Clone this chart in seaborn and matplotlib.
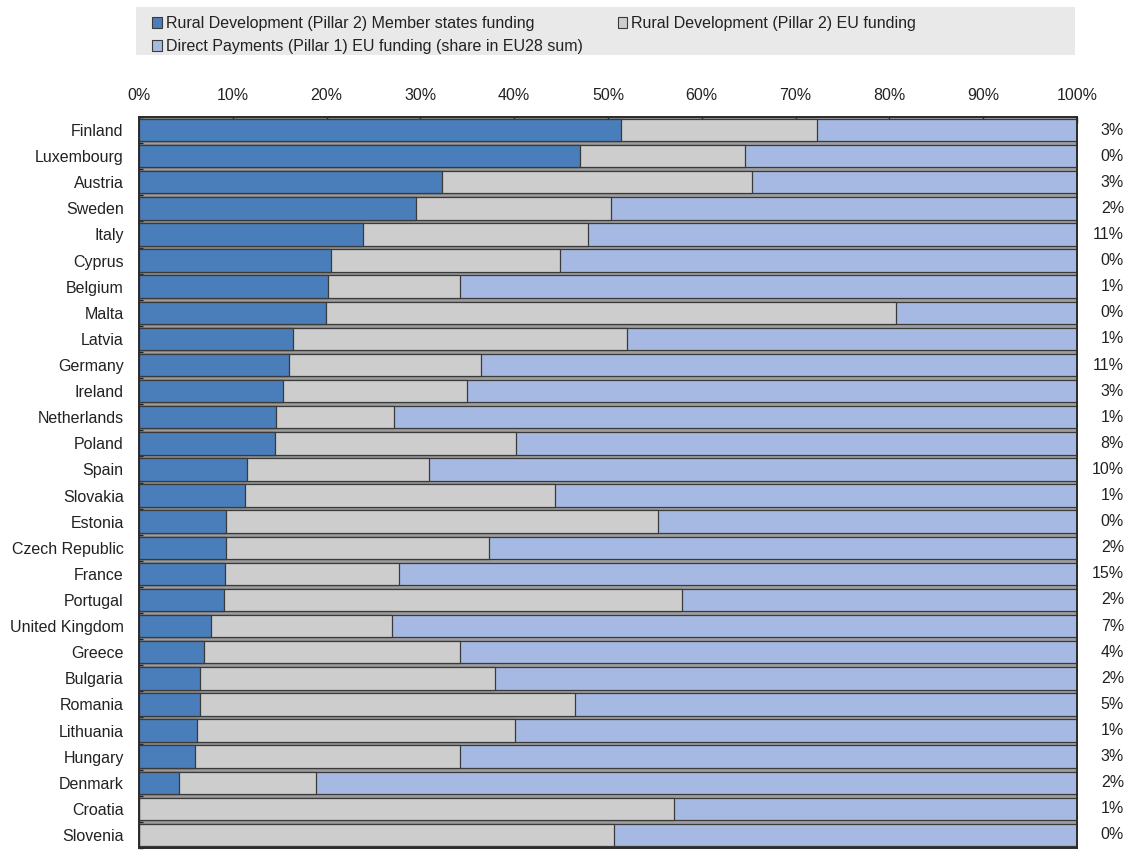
import matplotlib
matplotlib.use("Agg")
import matplotlib.pyplot as plt
from matplotlib.patches import Patch, Rectangle
from matplotlib.ticker import FixedLocator, FuncFormatter
import seaborn as sns
import numpy as np

countries = ["Finland", "Luxembourg", "Austria", "Sweden", "Italy", "Cyprus", "Belgium",
             "Malta", "Latvia", "Germany", "Ireland", "Netherlands", "Poland", "Spain",
             "Slovakia", "Estonia", "Czech Republic", "France", "Portugal", "United Kingdom",
             "Greece", "Bulgaria", "Romania", "Lithuania", "Hungary", "Denmark", "Croatia",
             "Slovenia"]

# shares of total CAP funding, in %
rd_member_states = [51.4, 47.0, 32.3, 29.5, 23.9, 20.5, 20.1, 19.9, 16.4, 16.0, 15.4, 14.6,
                    14.5, 11.5, 11.3, 9.3, 9.3, 9.2, 9.1, 7.7, 6.9, 6.5, 6.5, 6.2, 6.0, 4.3,
                    0.0, 0.0]
rd_eu = [20.9, 17.6, 33.0, 20.8, 24.0, 24.4, 14.1, 60.8, 35.6, 20.5, 19.6, 12.6, 25.7, 19.4,
         33.0, 46.0, 28.0, 18.5, 48.8, 19.3, 27.3, 31.4, 40.0, 33.9, 28.2, 14.6, 57.0, 50.6]
direct_payments = [27.7, 35.4, 34.7, 49.7, 52.1, 55.1, 65.8, 19.3, 48.0, 63.5, 65.0, 72.8,
                   59.8, 69.1, 55.7, 44.7, 62.7, 72.3, 42.1, 73.0, 65.8, 62.1, 53.5, 59.9,
                   65.8, 81.1, 43.0, 49.4]
eu28_share = ["3%", "0%", "3%", "2%", "11%", "0%", "1%", "0%", "1%", "11%", "3%", "1%", "8%",
              "10%", "1%", "0%", "2%", "15%", "2%", "7%", "4%", "2%", "5%", "1%", "3%", "2%",
              "1%", "0%"]

series_labels = ["Rural Development (Pillar 2) Member states funding",
                 "Rural Development (Pillar 2) EU funding",
                 "Direct Payments (Pillar 1) EU funding (share in EU28 sum)"]
x_ticks = [0, 10, 20, 30, 40, 50, 60, 70, 80, 90, 100]

c_ms = "#4a7ebb"
c_eu = "#cdcdcd"
c_dp = "#a6b9e2"
edge = "#3a3a3a"
txt = "#222222"
fs = 11.5

sns.set_theme(style="white")
plt.rcParams["font.family"] = ["Liberation Sans", "DejaVu Sans"]
plt.rcParams["font.size"] = fs

fig = plt.figure(figsize=(11.28, 8.5), dpi=100)
ax = fig.add_axes([139 / 1128, 1 - 848 / 850, (1077 - 139) / 1128, (848 - 117) / 850])
ax.set_facecolor("#9e9e9e")

ms = np.array(rd_member_states)
eu = np.array(rd_eu)
dp = np.array(direct_payments)

# stacked bars drawn back to front from cumulative sums
layers = [(ms + eu + dp, c_dp), (ms + eu, c_eu), (ms, c_ms)]
for vals, col in layers:
    sns.barplot(x=vals, y=countries, order=countries, orient="h", color=col,
                saturation=1, width=0.86, edgecolor=edge, linewidth=0.9, ax=ax)

ax.set_xlim(0, 100)
ax.set_ylim(len(countries) - 0.5, -0.5)
ax.set_xlabel("")
ax.set_ylabel("")

ax.xaxis.tick_top()
ax.xaxis.set_major_locator(FixedLocator(x_ticks))
ax.xaxis.set_major_formatter(FuncFormatter(lambda v, p: f"{v:.0f}%"))
ax.tick_params(axis="x", which="major", direction="in", length=4, width=1,
               color=txt, pad=10, labelsize=fs, labelcolor=txt,
               top=True, bottom=False)
ax.tick_params(axis="y", which="major", length=0, pad=11, labelsize=fs,
               labelcolor=txt)
ax.yaxis.set_minor_locator(FixedLocator(np.arange(-0.5, len(countries), 1.0)))
ax.tick_params(axis="y", which="minor", direction="in", length=3, width=1,
               color=txt, left=True)

for s in ax.spines.values():
    s.set_visible(True)
    s.set_color("#2a2a2a")
    s.set_linewidth(1.4)

# EU28 share labels on the right
trans = matplotlib.transforms.blended_transform_factory(ax.transAxes, ax.transData)
for i, lab in enumerate(eu28_share):
    ax.text(1.050, i, lab, transform=trans, ha="right", va="center",
            fontsize=fs, color=txt)

# legend on a shaded band
fig.patches.append(Rectangle((136 / 1128, 1 - 55 / 850), (1075 - 136) / 1128, 48 / 850,
                             transform=fig.transFigure, facecolor="#e9e9e9",
                             edgecolor="none", zorder=0))
handles = [Patch(facecolor=c_ms, edgecolor=edge, linewidth=0.8, label=series_labels[0]),
           Patch(facecolor=c_dp, edgecolor=edge, linewidth=0.8, label=series_labels[2]),
           Patch(facecolor=c_eu, edgecolor=edge, linewidth=0.8, label=series_labels[1])]
fig.legend(handles=handles, loc="upper left", bbox_to_anchor=(141 / 1128, 1 - 5 / 850),
           ncol=2, frameon=False, fontsize=fs, handlelength=0.6, handleheight=0.6,
           handletextpad=0.25, columnspacing=2.2, labelspacing=0.5, borderpad=0.2,
           labelcolor=txt)

fig.savefig("out.png", dpi=100)
